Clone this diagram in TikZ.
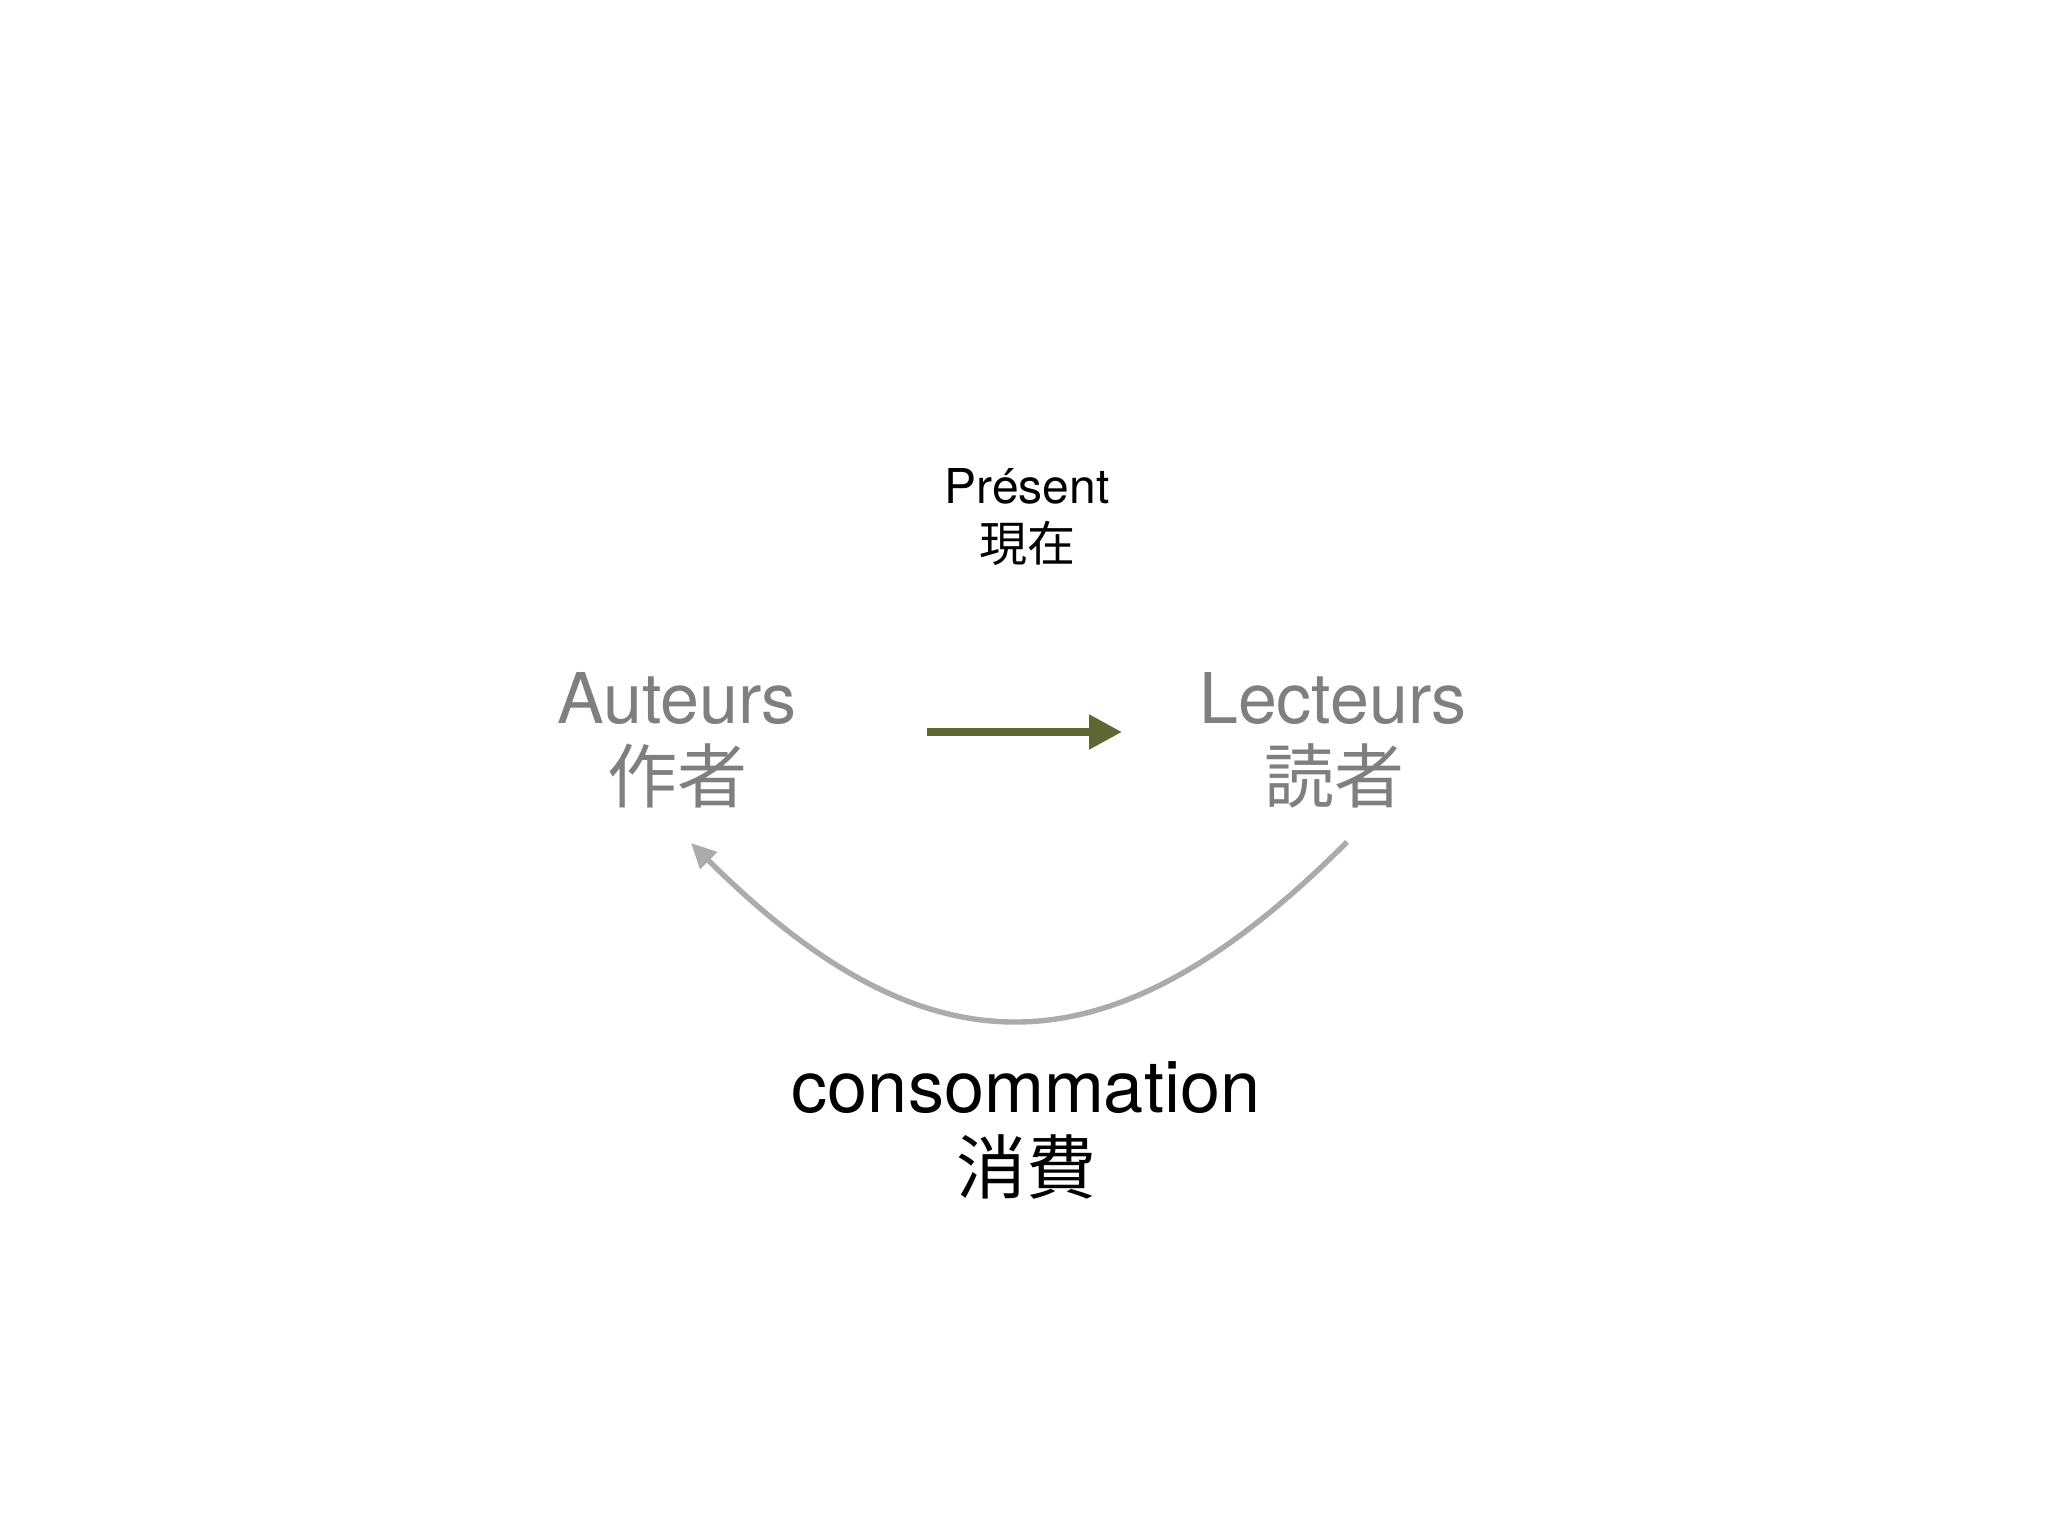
\documentclass[tikz,border=0pt]{standalone}
\usepackage{fontspec}
\setmainfont{TeX Gyre Heros}
\newfontfamily\cjk{Noto Sans CJK JP}
\usetikzlibrary{arrows.meta}
\definecolor{olivearr}{HTML}{5E6634}
\definecolor{lightarr}{HTML}{ABABAB}
\definecolor{txtgray}{HTML}{7F7F7F}
\tikzset{
  lbl/.style={inner sep=0pt, anchor=base},
  big/.style={lbl, font=\fontsize{35}{40}\selectfont, text=txtgray},
  bigjp/.style={lbl, font=\cjk\fontsize{35}{40}\selectfont, text=txtgray},
  small/.style={lbl, font=\fontsize{24}{28}\selectfont, text=black},
  smalljp/.style={lbl, font=\cjk\fontsize{24}{28}\selectfont, text=black},
  cons/.style={lbl, font=\fontsize{36}{40}\selectfont, text=black},
  consjp/.style={lbl, font=\cjk\fontsize{35}{40}\selectfont, text=black},
  olivearrow/.style={draw=olivearr, line width=4pt, -{Triangle[length=16.5pt,width=16.5pt]}, color=olivearr},
  grayarrow/.style={draw=lightarr, line width=2.7pt, -{Triangle[length=12.5pt,width=11.5pt]}, color=lightarr},
}
\begin{document}
\begin{tikzpicture}[x=0.5pt,y=-0.5pt]
\useasboundingbox[fill=white] (0,0) rectangle (2048,1536);
% labels
\node[small]   (present)   at (1027,503) {Présent};
\node[smalljp] (presentjp) at (1027,561) {現在};
\node[big]     (auteurs)   at (677,723) {Auteurs};
\node[bigjp]   (auteursjp) at (677,802) {作者};
\node[big]     (lecteurs)  at (1333,723) {Lecteurs};
\node[bigjp]   (lecteursjp) at (1334,802) {読者};
\node[cons]    (consom)    at (1026,1112) {consommation};
\node[consjp]  (consomjp)  at (1026,1193) {消費};
% connector ends
\coordinate (olA) at (927,732);
\coordinate (olB) at (1122,732);
\coordinate (cR) at (1347,842);
\coordinate (cL) at (691,843);
% connectors
\draw[olivearrow] (olA) -- (olB);
\draw[grayarrow] (cR) .. controls (1110,1079) and (928,1079) .. (cL);
\end{tikzpicture}
\end{document}
